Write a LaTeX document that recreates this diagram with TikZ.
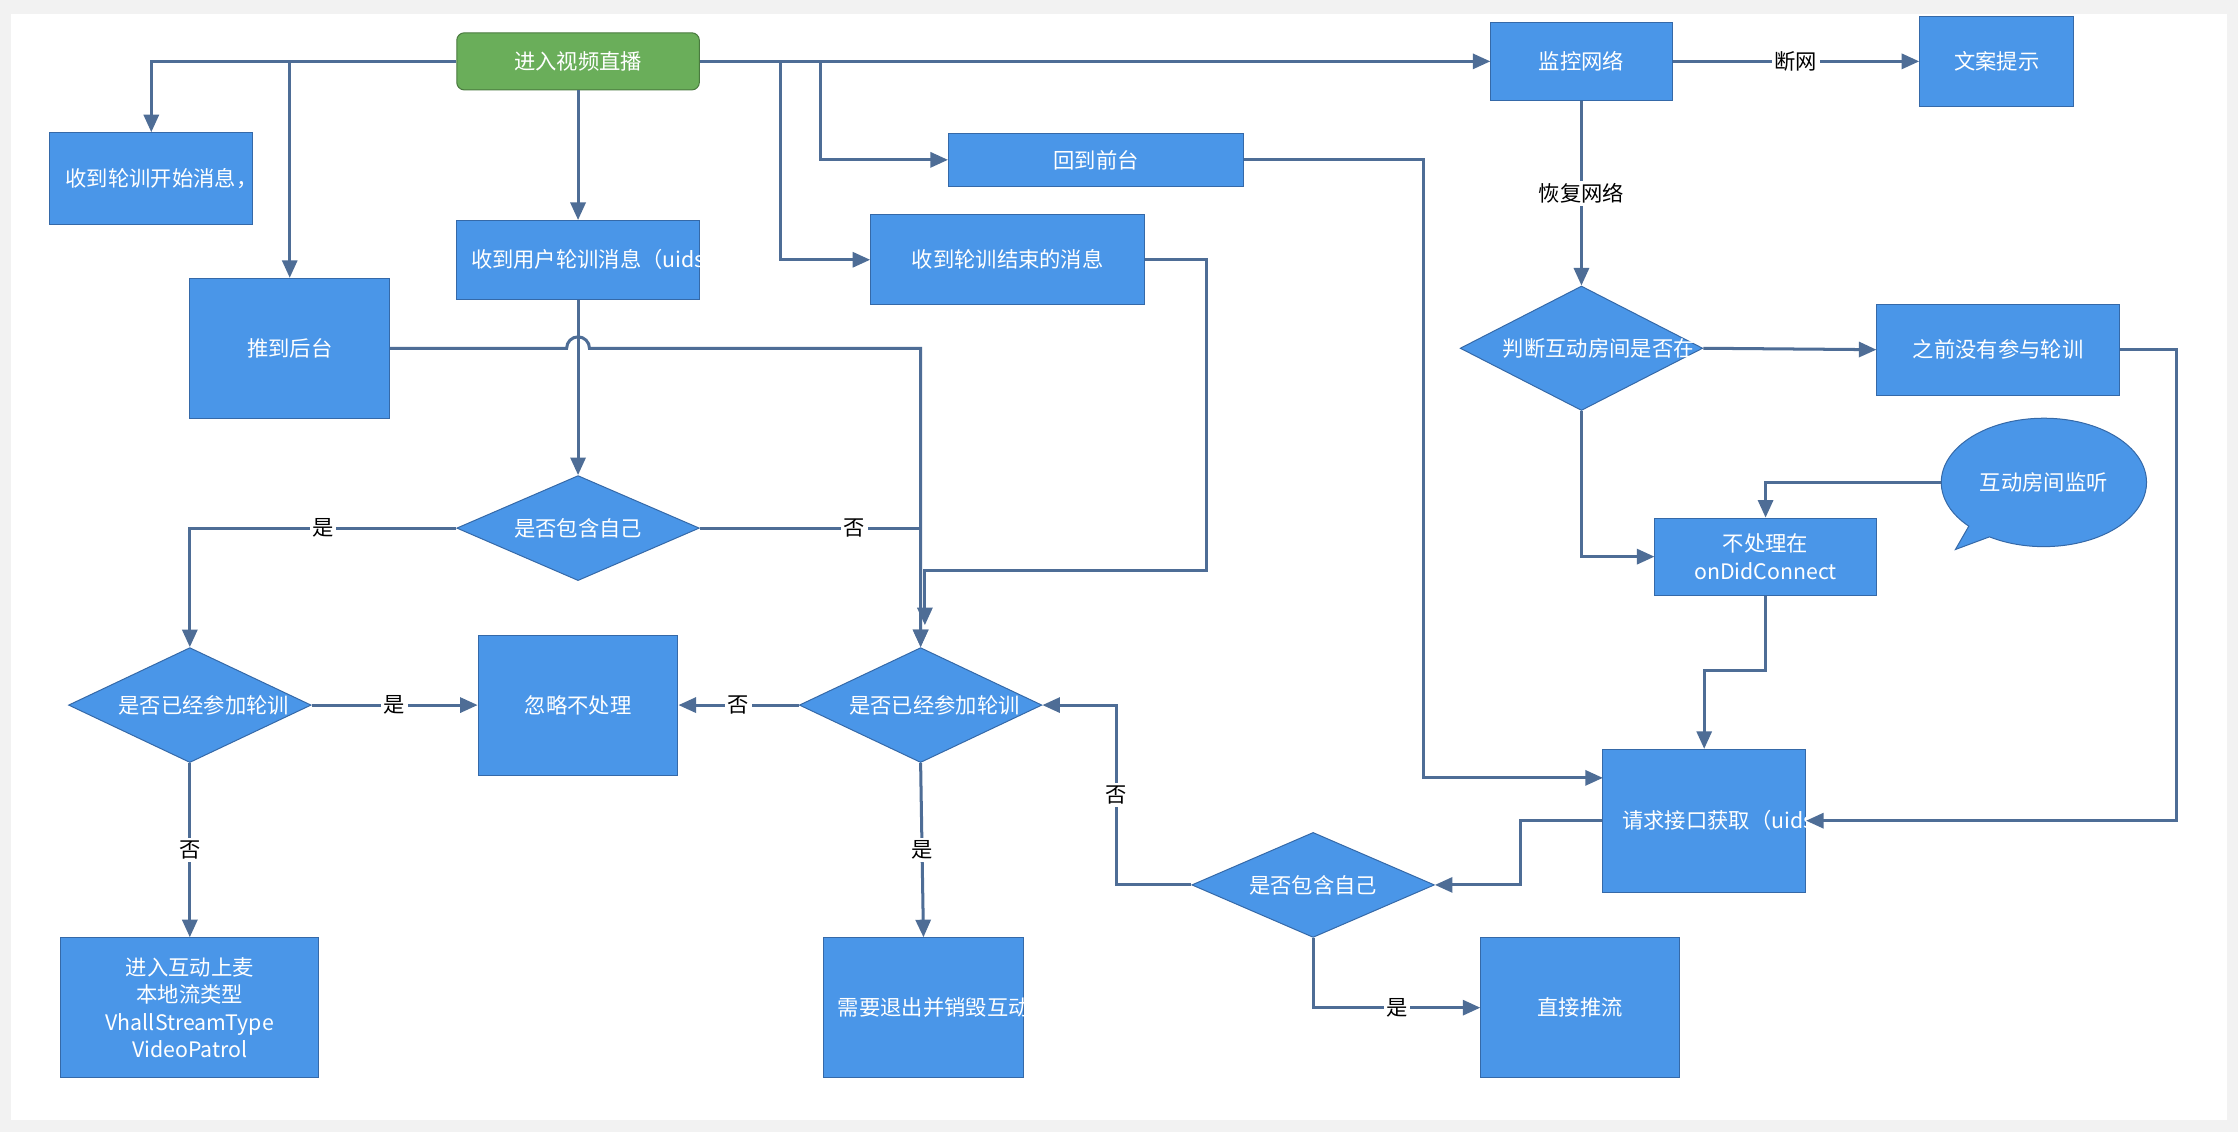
\documentclass[tikz,border=0pt]{standalone}
\usepackage{fontspec}
\setmainfont{Noto Sans CJK SC}
\usetikzlibrary{shapes.geometric,shapes.callouts,arrows.meta}
\definecolor{boxblue}{HTML}{4A96E8}
\definecolor{boxline}{HTML}{3569A8}
\definecolor{startgreen}{HTML}{6AAE5A}
\definecolor{edge}{HTML}{4E6D96}
\tikzset{
  box/.style={draw=boxline,fill=boxblue,text=white,align=center,font=\fontsize{8.5}{11}\selectfont,inner sep=2pt},
  dia/.style={diamond,draw=boxline,fill=boxblue,text=white,align=center,font=\fontsize{8.5}{11}\selectfont,aspect=1.5,inner sep=0pt},
  arr/.style={draw=edge,line width=1.2pt,-{Triangle[length=7pt,width=6pt]}},
  lbl/.style={fill=white,font=\fontsize{8.5}{11}\selectfont,inner sep=1pt}
}
\begin{document}
\begin{tikzpicture}[x=0.02cm,y=-0.02cm]
\fill[gray!10] (0,0) rectangle (1568,793);
\fill[white] (8,10) rectangle (1560,785);
\useasboundingbox (0,0) rectangle (1568,793);
% top row
\node[box,fill=startgreen,draw=startgreen!70!black,rounded corners=3pt,minimum width=170\pgflinewidth*0+3.4cm,minimum height=0.8cm] (start) at (405,43) {进入视频直播};
\node[box,minimum width=2.54cm,minimum height=1.1cm] (net) at (1108,43) {监控网络};
\node[box,minimum width=2.16cm,minimum height=1.26cm] (tip) at (1399,43) {文案提示};
\node[box,minimum width=2.84cm,minimum height=1.28cm,text width=2.4cm] (begin) at (106,125) {收到轮训开始消息，弹提示};
\node[box,minimum width=4.14cm,minimum height=0.74cm] (front) at (768,112) {回到前台};
\node[box,minimum width=3.4cm,minimum height=1.1cm,text width=3cm] (umsg) at (405,182) {收到用户轮训消息（uids）};
\node[box,minimum width=3.84cm,minimum height=1.26cm,text width=3.3cm] (end) at (706,182) {收到轮训结束的消息};
\node[box,minimum width=2.8cm,minimum height=1.96cm] (back) at (203,244) {推到后台};
% network side
\node[dia,minimum width=3.4cm,text width=2.2cm] (room) at (1108,244) {判断互动房间是否在};
\node[box,minimum width=3.4cm,minimum height=1.28cm,text width=2.8cm] (never) at (1400,245) {之前没有参与轮训};
\node[ellipse callout,draw=boxline,fill=boxblue,text=white,align=center,font=\fontsize{8.5}{11}\selectfont,minimum width=2.5cm,minimum height=1.8cm,text width=1.8cm,callout absolute pointer={(1370,385)}] (listen) at (1432,338) {互动房间监听};
\node[box,minimum width=3.1cm,minimum height=1.08cm] (skip) at (1237,390) {不处理在\\onDidConnect};
\node[box,minimum width=2.84cm,minimum height=2cm,text width=2.3cm] (req) at (1194,575) {请求接口获取（uids），强推流};
\node[dia,minimum width=3.4cm] (self2) at (920,620) {是否包含自己};
\node[box,minimum width=2.78cm,minimum height=1.96cm] (push) at (1107,706) {直接推流};
% left side
\node[dia,minimum width=3.4cm] (self) at (405,370) {是否包含自己};
\node[dia,minimum width=3.4cm,text width=2cm] (joinL) at (133,494) {是否已经参加轮训};
\node[box,minimum width=2.8cm,minimum height=1.96cm] (ignore) at (405,494) {忽略不处理};
\node[dia,minimum width=3.4cm,text width=2cm] (joinR) at (645,494) {是否已经参加轮训};
\node[box,minimum width=3.62cm,minimum height=1.96cm] (mic) at (133,706) {进入互动上麦\\本地流类型\\VhallStreamType\\VideoPatrol};
\node[box,minimum width=2.8cm,minimum height=1.96cm,text width=2.4cm] (quit) at (647,706) {需要退出并销毁互动直播间};
% connectors
\draw[arr] (start.west) -| (begin.north);
\draw[arr] (203,43) -- (back.north);
\draw[arr] (start) -- (umsg);
\draw[arr] (start.east) -- (net.west);
\draw[arr] (547,43) |- (end.west);
\draw[arr] (575,43) |- (front.west);
\draw[arr] (net) -- node[lbl]{断网} (tip);
\draw[arr] (net) -- node[lbl]{恢复网络} (room.north);
\draw[arr] (room.east) -- (never.west);
\draw[arr] (room.south) |- (skip.west);
\draw[arr] (never.east) -- (1525,245) |- (req.east);
\draw[arr] (listen.west) -- (1237,338) -- (skip.north);
\draw[arr] (skip.south) -- (1237,470) -| (req.north);
\draw[arr] (front.east) -- (997,112) |- (1123,545);
\draw[arr] (req.west) -- (1065,575) |- (self2.east);
\draw[arr] (self2.west) -- (782,620) |- node[lbl,pos=0.25]{否} (joinR.east);
\draw[arr] (self2.south) |- node[lbl,pos=0.75]{是} (push.west);
\draw[arr] (end.east) -- (845,182) |- (648,400) -- (648,438);
\draw[arr] (back.east) -- (397,244) arc[start angle=180,end angle=0,radius=0.16cm] -- (645,244) -- (joinR.north);
\draw[arr] (umsg) -- (self);
\draw[arr] (self.west) -| node[lbl,pos=0.25]{是} (joinL.north);
\draw[arr] (self.east) -- node[lbl,pos=0.7]{否} (645,370) -- (joinR.north);
\draw[arr] (joinL) -- node[lbl]{是} (ignore);
\draw[arr] (joinR) -- node[lbl]{否} (ignore);
\draw[arr] (joinL) -- node[lbl]{否} (mic);
\draw[arr] (joinR.south) -- node[lbl]{是} (quit.north);
\end{tikzpicture}
\end{document}
